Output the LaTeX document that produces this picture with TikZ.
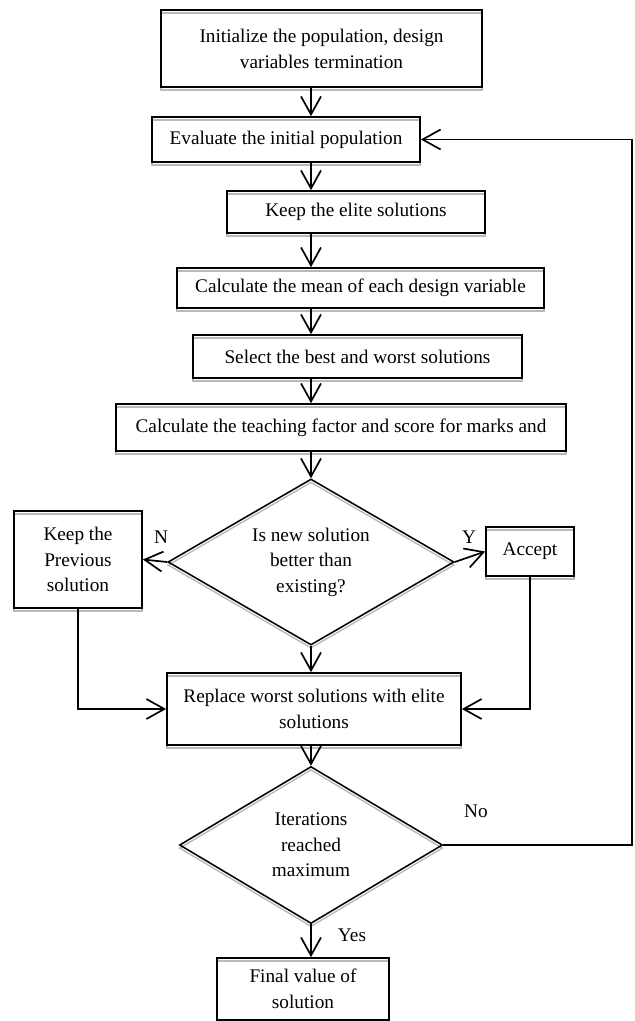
\documentclass[tikz,border=0pt]{standalone}
\usepackage{fontspec}
\setmainfont{Liberation Serif}
\usepackage{tikz}
\usetikzlibrary{arrows.meta}
\usetikzlibrary{shapes,shapes.geometric}
\tikzset{>=stealth}
\tikzset{
  procbox/.style={rectangle, draw, line width=1.2pt, inner sep=0pt, align=center,
    font=\fontsize{13.7}{18.4}\selectfont,
    preaction={draw=gray!55, line width=1pt, transform canvas={yshift=-2.2pt}}},
  decision/.style={diamond, draw, line width=1.1pt, inner sep=0pt, align=center,
    font=\fontsize{13.7}{18.2}\selectfont,
    preaction={draw=gray!55, line width=1pt, transform canvas={yshift=-2.2pt}}},
  flow/.style={-{Straight Barb[length=4.5mm,width=5mm]}, line width=1.2pt},
  tag/.style={font=\fontsize{13.7}{16}\selectfont}
}

\begin{document}
\begin{tikzpicture}[x=0.025cm, y=-0.025cm]
        \useasboundingbox (0,0) rectangle (634,1021);
        \coordinate (axis) at (311,0);
        \coordinate (ret) at (632,0);
        \node[procbox, minimum width=8.025cm, minimum height=1.925cm] (init) at (321.5,48.5) {Initialize the population, design\\variables termination};
        \node[procbox, minimum width=6.7cm, minimum height=1.125cm] (eval) at (286,139.5) {Evaluate the initial population};
        \node[procbox, minimum width=6.45cm, minimum height=1.05cm] (elite) at (356,212) {Keep the elite solutions};
        \node[procbox, minimum width=9.175cm, minimum height=1cm] (mean) at (360.5,288) {Calculate the mean of each design variable};
        \node[procbox, minimum width=8.225cm, minimum height=1.075cm] (select) at (357.5,356.5) {Select the best and worst solutions};
        \node[procbox, minimum width=11.25cm, minimum height=1.175cm] (teach) at (341,427.5) {Calculate the teaching factor and score for marks and};
        \node[decision, aspect=1.72, minimum width=7.15cm, minimum height=4.15cm] (better) at (311,562) {Is new solution\\better than\\existing?};
        \node[procbox, minimum width=3.2cm, minimum height=2.425cm] (keep) at (78,559.5) {Keep the\\Previous\\solution};
        \node[procbox, minimum width=2.2cm, minimum height=1.225cm] (accept) at (530,551.5) {Accept};
        \node[procbox, minimum width=7.35cm, minimum height=1.8cm] (replace) at (314,709) {Replace worst solutions with elite\\solutions};
        \node[decision, aspect=1.67, minimum width=6.575cm, minimum height=3.925cm] (iter) at (311,845) {Iterations\\reached\\maximum};
        \node[procbox, minimum width=4.3cm, minimum height=1.55cm] (final) at (303,989) {Final value of\\solution};
        \node[tag] (lblN) at (161,537) {N};
        \node[tag] (lblY) at (469,537) {Y};
        \node[tag] (lblNo) at (476,811) {No};
        \node[tag] (lblYes) at (352,935) {Yes};
        \draw[flow] (init.south -| axis) -- (eval.north -| axis);
        \draw[flow] (eval.south -| axis) -- (elite.north -| axis);
        \draw[flow] (elite.south -| axis) -- (mean.north -| axis);
        \draw[flow] (mean.south -| axis) -- (select.north -| axis);
        \draw[flow] (select.south -| axis) -- (teach.north -| axis);
        \draw[flow] (teach.south -| axis) -- (better.north);
        \draw[flow] (better.west) -- (keep.east);
        \draw[flow] (better.east) -- (accept.west);
        \draw[flow] (better.south) -- (replace.north -| axis);
        \draw[flow] (keep.south) |- (replace.west);
        \draw[flow] (accept.south) |- (replace.east);
        \draw[flow] (replace.south -| axis) -- (iter.north);
        \draw[flow] (iter.south) -- (final.north -| axis);
        \draw[flow] (iter.east) -- (iter.east -| ret) -- (eval.east -| ret) -- (eval.east);
      \end{tikzpicture}
\end{document}
